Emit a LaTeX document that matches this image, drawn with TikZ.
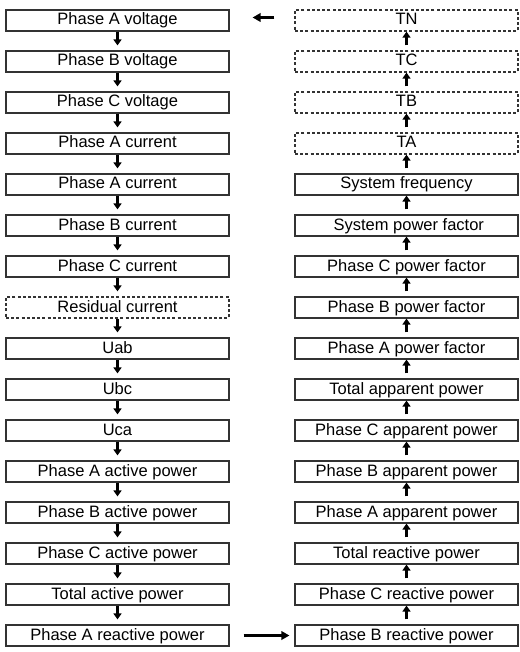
\documentclass[tikz,border=0pt]{standalone}
\usepackage{fontspec}
\setmainfont{Liberation Sans}
\usetikzlibrary{arrows.meta}
\tikzstyle{field} = [rectangle, draw=black!80, line width=1.2pt, minimum width=223pt, minimum height=21pt, text height=12pt, text depth=3pt, inner sep=0pt, font=\fontsize{16.5}{18}\selectfont]
\tikzstyle{optfield} = [field, line width=1.3pt, dash pattern=on 3pt off 2.2pt]
\tikzstyle{flow} = [line width=2.6pt, -{Triangle[length=6pt,width=8pt]}]
\tikzstyle{jump} = [line width=3pt, -{Triangle[length=8pt,width=8.5pt]}]

\begin{document}
\begin{tikzpicture}[node distance=41pt, x=1pt, y=1pt]
    \useasboundingbox (0,0) rectangle (519,-652);

    % left column, read downwards
    \node[field] (va) at (117.5,-20.5) {Phase A voltage};
    \node[field, below of=va] (vb) {Phase B voltage};
    \node[field, below of=vb] (vc) {Phase C voltage};
    \node[field, below of=vc] (ia1) {Phase A current};
    \node[field, below of=ia1] (ia2) {Phase A current};
    \node[field, below of=ia2] (ib) {Phase B current};
    \node[field, below of=ib] (ic) {Phase C current};
    \node[optfield, below of=ic] (ires) {Residual current};
    \node[field, below of=ires] (uab) {Uab};
    \node[field, below of=uab] (ubc) {Ubc};
    \node[field, below of=ubc] (uca) {Uca};
    \node[field, below of=uca] (pa) {Phase A active power};
    \node[field, below of=pa] (pb) {Phase B active power};
    \node[field, below of=pb] (pc) {Phase C active power};
    \node[field, below of=pc] (ptot) {Total active power};
    \node[field, below of=ptot] (qa) {Phase A reactive power};

    % right column, read upwards
    \node[optfield] (tn) at (406.5,-20.5) {TN};
    \node[optfield, below of=tn] (tc) {TC};
    \node[optfield, below of=tc] (tb) {TB};
    \node[optfield, below of=tb] (ta) {TA};
    \node[field, below of=ta] (freq) {System frequency};
    \node[field, below of=freq] (pfsys) {\ System power factor};
    \node[field, below of=pfsys] (pfc) {Phase C power factor};
    \node[field, below of=pfc] (pfb) {Phase B power factor};
    \node[field, below of=pfb] (pfa) {Phase A power factor};
    \node[field, below of=pfa] (stot) {Total apparent power};
    \node[field, below of=stot] (sc) {Phase C apparent power};
    \node[field, below of=sc] (sb) {Phase B apparent power};
    \node[field, below of=sb] (sa) {Phase A apparent power};
    \node[field, below of=sa] (qtot) {Total reactive power};
    \node[field, below of=qtot] (qc) {Phase C reactive power};
    \node[field, below of=qc] (qb) {Phase B reactive power};

    \draw [flow, shorten >=5pt] (va) -- (vb);
    \draw [flow, shorten >=5pt] (vb) -- (vc);
    \draw [flow, shorten >=5pt] (vc) -- (ia1);
    \draw [flow, shorten >=5pt] (ia1) -- (ia2);
    \draw [flow, shorten >=5pt] (ia2) -- (ib);
    \draw [flow, shorten >=5pt] (ib) -- (ic);
    \draw [flow, shorten >=5pt] (ic) -- (ires);
    \draw [flow, shorten >=5pt] (ires) -- (uab);
    \draw [flow, shorten >=5pt] (uab) -- (ubc);
    \draw [flow, shorten >=5pt] (ubc) -- (uca);
    \draw [flow, shorten >=5pt] (uca) -- (pa);
    \draw [flow, shorten >=5pt] (pa) -- (pb);
    \draw [flow, shorten >=5pt] (pb) -- (pc);
    \draw [flow, shorten >=5pt] (pc) -- (ptot);
    \draw [flow, shorten >=5pt] (ptot) -- (qa);

    \draw [jump, shorten <=14pt, shorten >=5pt] (qa) -- (qb);

    \draw [flow, shorten <=5pt] (qb) -- (qc);
    \draw [flow, shorten <=5pt] (qc) -- (qtot);
    \draw [flow, shorten <=5pt] (qtot) -- (sa);
    \draw [flow, shorten <=5pt] (sa) -- (sb);
    \draw [flow, shorten <=5pt] (sb) -- (sc);
    \draw [flow, shorten <=5pt] (sc) -- (stot);
    \draw [flow, shorten <=5pt] (stot) -- (pfa);
    \draw [flow, shorten <=5pt] (pfa) -- (pfb);
    \draw [flow, shorten <=5pt] (pfb) -- (pfc);
    \draw [flow, shorten <=5pt] (pfc) -- (pfsys);
    \draw [flow, shorten <=5pt] (pfsys) -- (freq);
    \draw [flow, shorten <=5pt] (freq) -- (ta);
    \draw [flow, shorten <=5pt] (ta) -- (tb);
    \draw [flow, shorten <=5pt] (tb) -- (tc);
    \draw [flow, shorten <=5pt] (tc) -- (tn);

    \draw [jump, shorten <=20pt, shorten >=23pt] ([yshift=3pt]tn.west) -- ([yshift=3pt]va.east);

\end{tikzpicture}
\end{document}
